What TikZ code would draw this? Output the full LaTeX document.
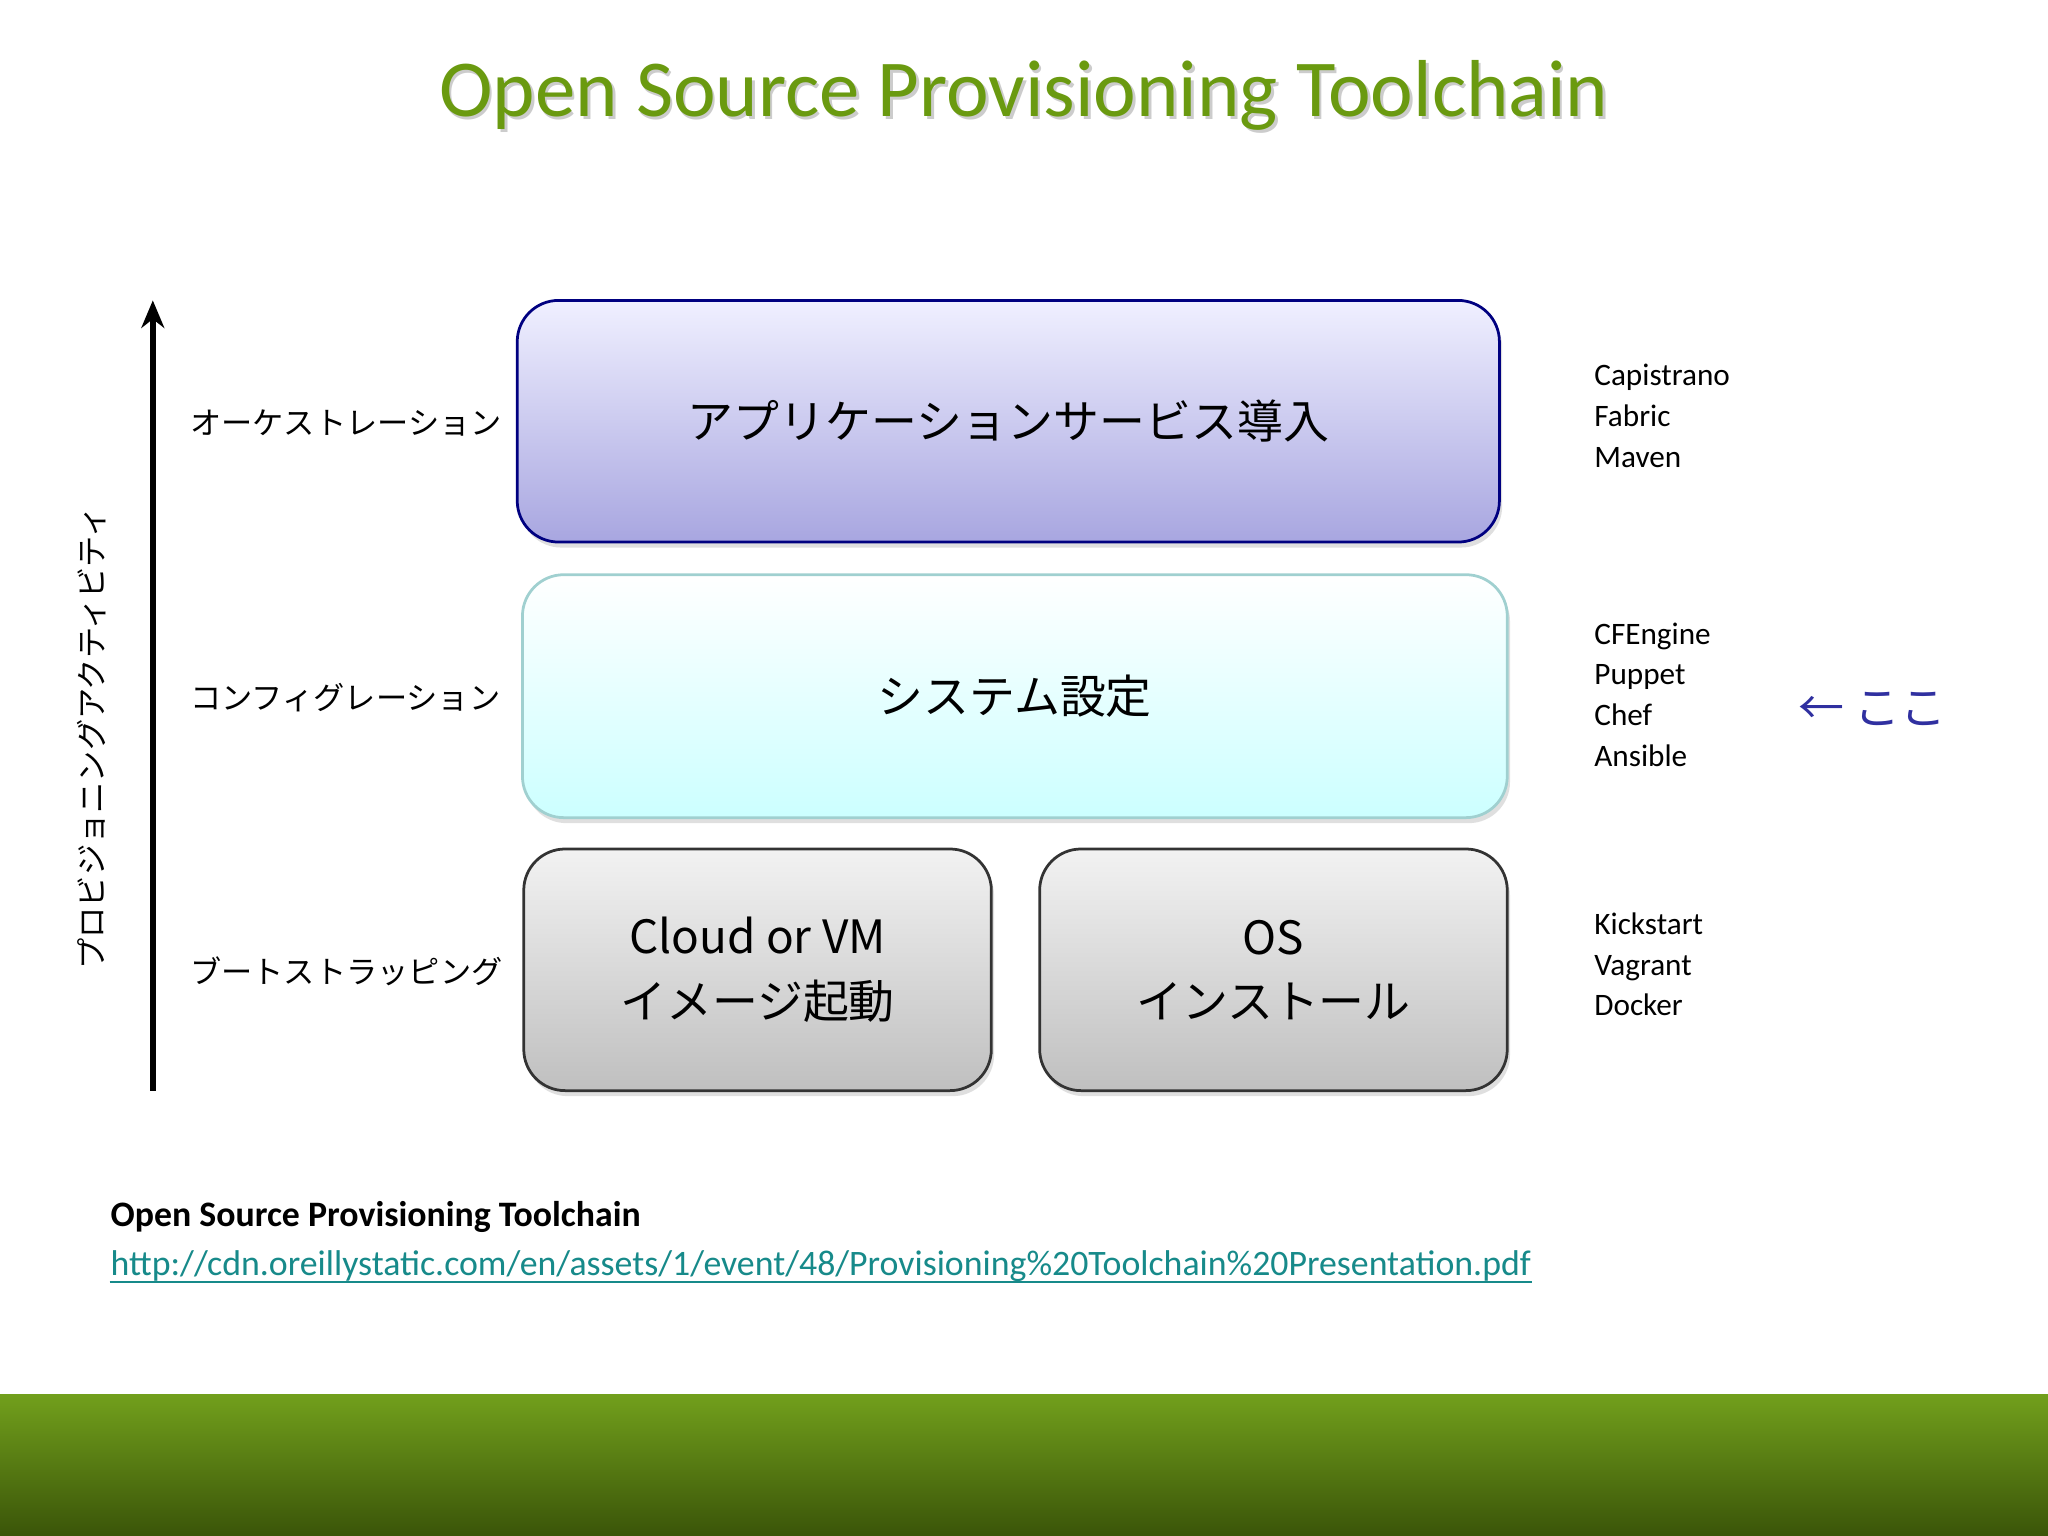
\documentclass[tikz,border=0pt]{standalone}
\usepackage{fontspec}
\setmainfont{Carlito}
\newfontfamily\jp{Noto Sans CJK JP}
\usetikzlibrary{shadows,arrows.meta}
\definecolor{ttl}{HTML}{6A9A10}
\definecolor{lnk}{HTML}{178A8A}
\tikzset{
 layer/.style={rounded corners=9pt, draw, line width=0.6pt, align=center, inner sep=0pt,
   font=\fontsize{10}{14}\jp, drop shadow={shadow xshift=0.6pt, shadow yshift=-1.2pt, opacity=0.25}},
 lbl/.style={anchor=west, font=\fontsize{6.8}{8}\jp, inner sep=0pt},
 tools/.style={anchor=north west, align=left, font=\fontsize{6.8}{8.9}\selectfont, inner sep=0pt}
}
\begin{document}
\begin{tikzpicture}[x=0.1mm,y=-0.1mm]
\useasboundingbox (0,0) rectangle (1568,1176);
\fill[white] (0,0) rectangle (1568,1068);
\shade[top color=ttl!95!white, bottom color=black!45!ttl] (0,1068) rectangle (1568,1176);
\node[text=gray!40, font=\fontsize{17.6}{20}\selectfont] at (786,75) {Open Source Provisioning Toolchain};
\node (title) [text=ttl, font=\fontsize{17.6}{20}\selectfont] at (784,73) {Open Source Provisioning Toolchain};
\node (app) [layer, draw=blue!50!black, top color=blue!6, bottom color={rgb,255:red,168;green,166;blue,224},
  minimum width=752*0.1mm, minimum height=185*0.1mm] at (772,322.5) {アプリケーションサービス導入};
\node (sys) [layer, draw={rgb,255:red,160;green,208;blue,208}, top color=white, bottom color={rgb,255:red,204;green,255;blue,255},
  minimum width=754*0.1mm, minimum height=186*0.1mm] at (777,533) {システム設定};
\node (vm) [layer, draw=black!80, top color=black!5, bottom color=black!25,
  minimum width=358*0.1mm, minimum height=185*0.1mm] at (580,742.5) {\fontsize{10}{14}\selectfont Cloud or VM\\イメージ起動};
\node (os) [layer, draw=black!80, top color=black!5, bottom color=black!25,
  minimum width=358*0.1mm, minimum height=185*0.1mm] at (975,742.5) {\fontsize{10}{14}\selectfont OS\\インストール};
\coordinate (a0) at (117,835);
\coordinate (a1) at (117,230);
\draw[line width=1.3pt, -{Stealth[length=6pt,width=5pt]}] (a0) -- (a1);
\node (vert) [rotate=90, font=\fontsize{6.8}{8}\jp, inner sep=0pt] at (70,565) {プロビジョニングアクティビティ};
\node (l1) [lbl] at (145,324) {オーケストレーション};
\node (l2) [lbl] at (145,534) {コンフィグレーション};
\node (l3) [lbl] at (145,744) {ブートストラッピング};
\node (t1) [tools] at (1220,278) {Capistrano\\Fabric\\Maven};
\node (t2) [tools] at (1220,476) {CFEngine\\Puppet\\Chef\\Ansible};
\node (t3) [tools] at (1220,698) {Kickstart\\Vagrant\\Docker};
\node (here) [anchor=west, inner sep=0pt, text={rgb,255:red,48;green,48;blue,160}, font=\fontsize{10}{12}\jp] at (1376,543) {← ここ};
\node (src) [anchor=west, inner sep=0pt, font=\fontsize{7.8}{9}\bfseries] at (84,932) {Open Source Provisioning Toolchain};
\node (url) [anchor=west, inner sep=0pt, text=lnk, font=\fontsize{7.8}{9}\selectfont] at (84,969) {http://cdn.oreillystatic.com/en/assets/1/event/48/Provisioning\%20Toolchain\%20Presentation.pdf};
\draw[lnk, line width=0.4pt] ([yshift=-1.6pt]url.base west) -- ([yshift=-1.6pt]url.base east);
\end{tikzpicture}
\end{document}
